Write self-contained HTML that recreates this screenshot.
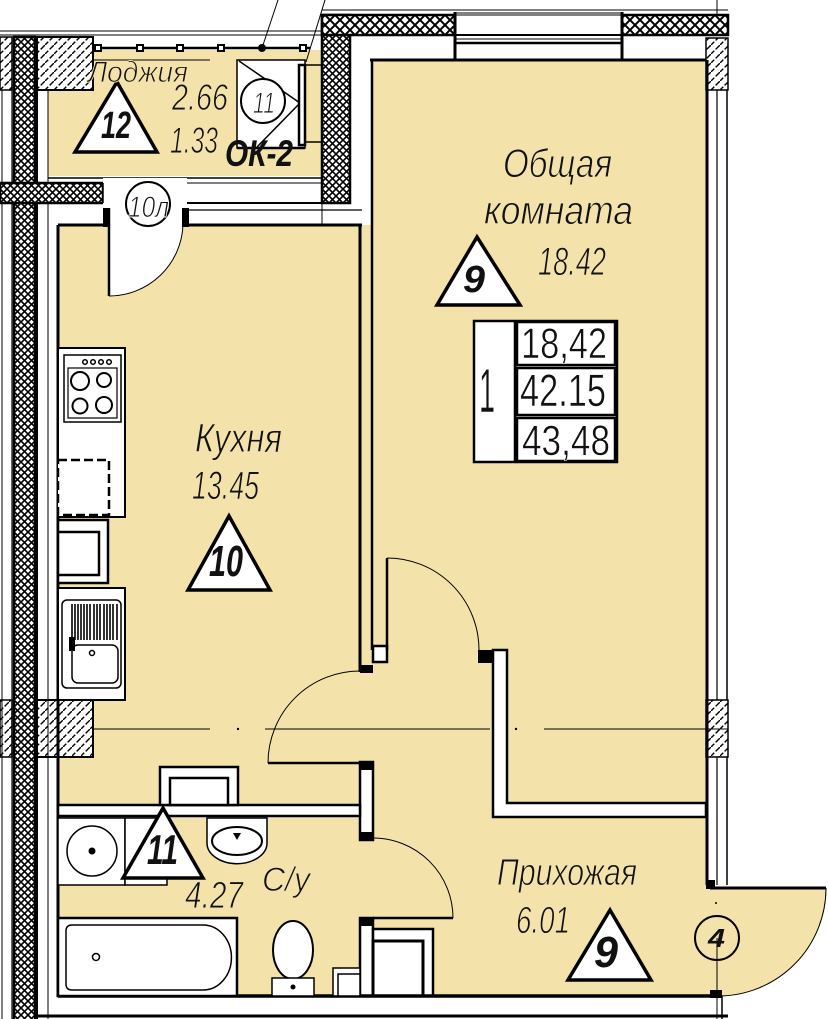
<!DOCTYPE html>
<html><head><meta charset="utf-8"><style>
html,body{margin:0;padding:0;background:#fff;}
svg{display:block;}
text{font-family:"Liberation Sans","DejaVu Sans",sans-serif;fill:#111;}
.i{font-style:italic;stroke:#F3E3AB;stroke-width:0.9;}
.b{font-style:italic;font-weight:bold;}
.n{font-style:normal;stroke:#fff;stroke-width:0.6;}
</style></head><body>
<svg width="828" height="1019" viewBox="0 0 828 1019" xmlns="http://www.w3.org/2000/svg">
<defs>
<pattern id="xh" width="7" height="7" patternUnits="userSpaceOnUse">
<rect width="7" height="7" fill="#fff"/><path d="M-1,-1 L8,8 M-1,8 L8,-1" stroke="#000" stroke-width="1.6"/>
</pattern>
<pattern id="xh2" width="10" height="10" patternUnits="userSpaceOnUse">
<rect width="10" height="10" fill="#fff"/><path d="M-1,-1 L11,11 M-1,11 L11,-1" stroke="#000" stroke-width="2"/>
</pattern>
<pattern id="dh" width="9" height="9" patternUnits="userSpaceOnUse">
<rect width="9" height="9" fill="#fff"/><path d="M-1,10 L10,-1" stroke="#000" stroke-width="1.4" stroke-dasharray="6,2"/>
</pattern>
</defs>
<g fill="#F3E3AB">
<polygon points="93,50 322,50 322,176 48,176 48,90 93,90"/>
<rect x="58" y="225" width="648" height="770"/>
<rect x="372" y="60" width="334" height="170"/>
<path d="M706,888 L826,888 A108,108 0 0 1 718,996 L706,996 Z"/>
</g>
<g stroke="#000" fill="none">
<line x1="0" y1="31" x2="322" y2="31" stroke-width="1"/>
<line x1="0" y1="35" x2="322" y2="35" stroke-width="1"/>
<line x1="0" y1="60" x2="210" y2="60" stroke-width="1"/>
<line x1="322" y1="10" x2="728" y2="10" stroke-width="1"/>
<line x1="455" y1="13" x2="622" y2="13" stroke-width="1"/>
<line x1="717" y1="0" x2="717" y2="15" stroke-width="1"/>
<line x1="278" y1="0" x2="262" y2="48" stroke-width="1"/>
<line x1="325" y1="0" x2="306" y2="62" stroke-width="1"/>
</g>
<rect x="0" y="37" width="12" height="53" fill="url(#dh)" stroke="#000" stroke-width="1.5"/>
<rect x="37" y="37" width="56" height="53" fill="url(#dh)" stroke="#000" stroke-width="2"/>
<rect x="0" y="700" width="12" height="57" fill="url(#dh)" stroke="#000" stroke-width="1.5"/>
<rect x="37" y="700" width="56" height="57" fill="url(#dh)" stroke="#000" stroke-width="2"/>
<rect x="14" y="37" width="21" height="990" fill="url(#xh)" stroke="#000" stroke-width="2.5"/>
<line x1="2" y1="90" x2="2" y2="1019" stroke="#000" stroke-width="1"/>
<line x1="12" y1="90" x2="12" y2="1019" stroke="#000" stroke-width="1.2"/>
<line x1="37" y1="90" x2="37" y2="1019" stroke="#000" stroke-width="2"/>
<line x1="48" y1="90" x2="48" y2="1019" stroke="#000" stroke-width="1"/>
<line x1="58" y1="225" x2="58" y2="997" stroke="#000" stroke-width="3"/>
<rect x="0" y="183" width="103" height="20" fill="url(#xh)" stroke="#000" stroke-width="2.5"/>
<line x1="93" y1="48" x2="310" y2="48" stroke="#000" stroke-width="2.5"/>
<g fill="#fff" stroke="#000" stroke-width="2">
<rect x="95" y="45" width="6" height="6"/><rect x="137" y="45" width="6" height="6"/><rect x="177" y="45" width="6" height="6"/><rect x="218" y="45" width="6" height="6"/><rect x="300" y="45" width="6" height="6"/>
</g>
<circle cx="262" cy="48" r="4" fill="#000"/>
<line x1="48" y1="178" x2="322" y2="178" stroke="#000" stroke-width="1.5"/>
<line x1="103" y1="183" x2="322" y2="183" stroke="#000" stroke-width="1"/>
<rect x="237" y="60" width="68" height="88" fill="#fff" stroke="#000" stroke-width="1.5"/>
<line x1="237" y1="148" x2="305" y2="148" stroke="#000" stroke-width="2.5"/>
<polyline points="239,61 300,103 257,147" fill="none" stroke="#000" stroke-width="1.5"/>
<circle cx="263" cy="101" r="22" fill="#fff" stroke="#000" stroke-width="2"/>
<rect x="299" y="65" width="6" height="80" fill="#fff" stroke="#000" stroke-width="2.5"/>
<line x1="305" y1="65" x2="323" y2="65" stroke="#000" stroke-width="1.5"/>
<line x1="305" y1="142" x2="323" y2="142" stroke="#000" stroke-width="1.5"/>
<rect x="322" y="15" width="28" height="188" fill="url(#xh)" stroke="#000" stroke-width="2.5"/>
<rect x="322" y="15" width="133" height="20" fill="url(#xh2)" stroke="#000" stroke-width="2.5"/>
<rect x="622" y="15" width="106" height="20" fill="url(#xh2)" stroke="#000" stroke-width="2.5"/>
<g stroke="#000">
<line x1="455" y1="15" x2="622" y2="15" stroke-width="1"/>
<line x1="455" y1="35" x2="622" y2="35" stroke-width="2"/>
<line x1="455" y1="39" x2="622" y2="39" stroke-width="1"/>
<line x1="455" y1="43" x2="622" y2="43" stroke-width="2.5"/>
<line x1="455" y1="12" x2="455" y2="61" stroke-width="3"/>
<line x1="622" y1="12" x2="622" y2="61" stroke-width="3"/>
<line x1="350" y1="35" x2="455" y2="35" stroke-width="2"/>
<line x1="622" y1="35" x2="706" y2="35" stroke-width="2"/>
<line x1="370" y1="60" x2="708" y2="60" stroke-width="3"/>
<line x1="372" y1="60" x2="372" y2="650" stroke-width="2.5"/>
<line x1="360" y1="225" x2="360" y2="672" stroke-width="3"/>
<line x1="322" y1="203" x2="322" y2="225" stroke-width="1"/>
<line x1="187" y1="203" x2="350" y2="203" stroke-width="2"/>
<line x1="187" y1="210" x2="362" y2="210" stroke-width="1.2"/>
<line x1="58" y1="225" x2="103" y2="225" stroke-width="3"/>
<line x1="187" y1="225" x2="362" y2="225" stroke-width="3"/>
</g>
<rect x="706" y="38" width="22" height="52" fill="url(#dh)" stroke="#000" stroke-width="1.5"/>
<rect x="706" y="700" width="22" height="57" fill="url(#dh)" stroke="#000" stroke-width="1.5"/>
<g stroke="#000">
<line x1="707" y1="60" x2="707" y2="885" stroke-width="3"/>
<line x1="717" y1="90" x2="717" y2="700" stroke-width="1.2"/>
<line x1="717" y1="757" x2="717" y2="885" stroke-width="1.2"/>
<line x1="727" y1="90" x2="727" y2="700" stroke-width="1.5"/>
<line x1="727" y1="757" x2="727" y2="885" stroke-width="1.5"/>
</g>
<rect x="706" y="880" width="9" height="9" fill="#000"/>
<path d="M103,178 H187 V225 H183 A74,74 0 0 1 108,296 V225 H103 Z" fill="#fff"/>
<line x1="103" y1="183" x2="103" y2="203" stroke="#000" stroke-width="1.5"/>
<rect x="103" y="208" width="7" height="19" fill="#000"/>
<rect x="182" y="208" width="7" height="19" fill="#000"/>
<line x1="109" y1="208" x2="109" y2="296" stroke="#000" stroke-width="2.5"/>
<path d="M109,296 A74,74 0 0 0 183,225" fill="none" stroke="#000" stroke-width="1"/>
<circle cx="148" cy="204" r="22" fill="#fff" stroke="#000" stroke-width="2"/>
<rect x="373" y="646" width="14" height="16" fill="#fff" stroke="#000" stroke-width="2.5"/>
<rect x="360" y="665" width="13" height="8" fill="#000"/>
<line x1="387" y1="558" x2="387" y2="650" stroke="#000" stroke-width="2.5"/>
<path d="M387,558 A92,92 0 0 1 479,650" fill="none" stroke="#000" stroke-width="1"/>
<polygon points="493,650 507,650 507,803 706,803 706,817 493,817" fill="#fff" stroke="#000" stroke-width="2.5"/>
<rect x="478" y="650" width="15" height="13" fill="#000"/>
<g stroke="#000" stroke-width="1">
<line x1="93" y1="729" x2="210" y2="729"/><line x1="265" y1="729" x2="490" y2="729"/><line x1="544" y1="729" x2="728" y2="729"/>
</g>
<circle cx="238" cy="729" r="1.2" fill="#000"/><circle cx="516" cy="729" r="1.2" fill="#000"/>
<rect x="360" y="762" width="13" height="78" fill="#fff" stroke="#000" stroke-width="2.5"/>
<rect x="360" y="762" width="13" height="8" fill="#000"/>
<rect x="360" y="832" width="13" height="8" fill="#000"/>
<line x1="268" y1="763" x2="360" y2="763" stroke="#000" stroke-width="2.5"/>
<path d="M268,763 A92,92 0 0 1 360,671" fill="none" stroke="#000" stroke-width="1"/>
<rect x="58" y="805" width="302" height="11" fill="#fff" stroke="#000" stroke-width="2.5"/>
<rect x="160" y="767" width="78" height="38" fill="#fff" stroke="#000" stroke-width="2.5"/>
<rect x="170" y="778" width="58" height="27" fill="#fff" stroke="#000" stroke-width="2.5"/>
<rect x="360" y="918" width="13" height="78" fill="#fff" stroke="#000" stroke-width="2.5"/>
<rect x="360" y="918" width="13" height="8" fill="#000"/>
<line x1="373" y1="918" x2="453" y2="918" stroke="#000" stroke-width="2.5"/>
<path d="M373,838 A80,80 0 0 1 453,918" fill="none" stroke="#000" stroke-width="1"/>
<rect x="373" y="929" width="60" height="67" fill="#fff" stroke="#000" stroke-width="2.5"/>
<rect x="373" y="941" width="50" height="55" fill="#fff" stroke="#000" stroke-width="3"/>
<rect x="58" y="996" width="664" height="18" fill="#fff"/>
<line x1="58" y1="996" x2="722" y2="996" stroke="#000" stroke-width="3.5"/>
<line x1="37" y1="1016" x2="728" y2="1016" stroke="#000" stroke-width="3"/>
<rect x="710" y="990" width="12" height="8" fill="#000"/>
<line x1="722" y1="996" x2="722" y2="1019" stroke="#000" stroke-width="1.5"/>
<line x1="710" y1="888" x2="826" y2="888" stroke="#000" stroke-width="3"/>
<path d="M826,888 A108,108 0 0 1 718,996" fill="none" stroke="#000" stroke-width="1"/>
<line x1="717" y1="938" x2="717" y2="1019" stroke="#000" stroke-width="1"/>
<circle cx="717" cy="938" r="22" fill="none" stroke="#000" stroke-width="2"/>
<circle cx="716" cy="903" r="1" fill="#000"/>
<g fill="#fff" stroke="#000">
<rect x="58" y="348" width="67" height="169" stroke-width="2"/>
<rect x="64" y="355" width="57" height="67" stroke-width="1.5"/>
<rect x="68" y="368" width="49" height="50" stroke-width="1.2"/>
<circle cx="80" cy="381" r="9" stroke-width="2"/><circle cx="104" cy="380" r="7" stroke-width="2"/>
<circle cx="80" cy="406" r="7.5" stroke-width="2"/><circle cx="104" cy="405" r="8" stroke-width="2"/>
<circle cx="85" cy="362" r="2.3" stroke-width="1.5"/><circle cx="93" cy="362" r="2.3" stroke-width="1.5"/><circle cx="101" cy="362" r="2.3" stroke-width="1.5"/><circle cx="109" cy="362" r="2.3" stroke-width="1.5"/>
<rect x="58" y="460" width="51" height="55" stroke-width="2.5" stroke-dasharray="9,4"/>
<rect x="58" y="520" width="50" height="63" stroke-width="2.5"/>
<rect x="58" y="532" width="41" height="43" stroke-width="2.5"/>
<rect x="58" y="588" width="67" height="112" stroke-width="2"/>
<rect x="62" y="600" width="59" height="88" rx="5" stroke-width="1.5"/>
<rect x="72" y="645" width="46" height="38" rx="6" stroke-width="1.5"/>
</g>
<g stroke="#000" stroke-width="1.6">
<line x1="72" y1="604" x2="72" y2="640"/><line x1="75" y1="604" x2="75" y2="640"/><line x1="78" y1="604" x2="78" y2="640"/><line x1="81" y1="604" x2="81" y2="640"/><line x1="84" y1="604" x2="84" y2="640"/><line x1="87" y1="604" x2="87" y2="640"/><line x1="90" y1="604" x2="90" y2="640"/><line x1="94" y1="604" x2="94" y2="640"/><line x1="97" y1="604" x2="97" y2="640"/><line x1="100" y1="604" x2="100" y2="640"/><line x1="104" y1="604" x2="104" y2="640"/><line x1="107" y1="604" x2="107" y2="640"/><line x1="110" y1="604" x2="110" y2="640"/><line x1="113" y1="604" x2="113" y2="640"/><line x1="117" y1="604" x2="117" y2="640"/>
</g>
<rect x="69" y="637" width="6" height="14" fill="#000"/>
<circle cx="92" cy="653" r="2.5" fill="#fff" stroke="#000" stroke-width="1.5"/>
<g fill="#fff" stroke="#000">
<rect x="58" y="818" width="67" height="67" stroke-width="1.5"/>
<rect x="125" y="818" width="42" height="67" stroke-width="1.5"/>
<circle cx="92" cy="851" r="25" stroke-width="1.5"/>
<path d="M207,818 V843 A29,20 0 0 0 267,843 V818 Z" stroke-width="1.5"/>
<ellipse cx="237" cy="841" rx="25" ry="14" stroke-width="2"/>
<rect x="58" y="918" width="179" height="78" stroke-width="2.5"/>
<path d="M72,925 H203 A28,32 0 0 1 203,990 H72 Q66,990 66,984 V931 Q66,925 72,925 Z" stroke-width="1.5"/>
<ellipse cx="293" cy="950" rx="20" ry="29" stroke-width="2"/>
<rect x="272" y="978" width="42" height="18" stroke-width="1.5"/>
<rect x="333" y="968" width="27" height="28" stroke-width="1.5"/>
<rect x="338" y="974" width="22" height="22" stroke-width="1.5"/>
</g>
<circle cx="92" cy="851" r="3.5" fill="#000"/>
<path d="M233,833 L241,833 L237,840 Z" fill="#000"/>
<circle cx="96" cy="957" r="3.5" fill="#fff" stroke="#000" stroke-width="1.5"/>
<circle cx="293" cy="987" r="2.5" fill="#000"/>
<g fill="#fff" stroke="#000" stroke-width="3.5" stroke-linejoin="miter">
<polygon points="75,152 157,152 117,82"/>
<polygon points="437,305 520,305 477,237"/>
<polygon points="188,590 270,590 229,516"/>
<polygon points="123,878 203,878 163,808"/>
<polygon points="568,980 651,980 610,910"/>
</g>
<rect x="474" y="321" width="143" height="141" fill="#fff" stroke="#000" stroke-width="2.5"/>
<line x1="515" y1="321" x2="515" y2="462" stroke="#000" stroke-width="2.5"/>
<g fill="#fff" stroke="#000" stroke-width="2.5">
<rect x="517" y="322" width="98" height="43"/>
<rect x="517" y="368" width="98" height="47"/>
<rect x="517" y="418" width="98" height="43"/>
</g>
<text class="i" x="88" y="82" font-size="30" textLength="100" lengthAdjust="spacingAndGlyphs">Лоджия</text>
<text class="i" x="172" y="110" font-size="37" textLength="56" lengthAdjust="spacingAndGlyphs">2.66</text>
<text class="i" x="170" y="153" font-size="37" textLength="48" lengthAdjust="spacingAndGlyphs">1.33</text>
<text class="b" x="101" y="138" font-size="38" textLength="30" lengthAdjust="spacingAndGlyphs">12</text>
<text class="i" x="253" y="113" font-size="30" textLength="22" lengthAdjust="spacingAndGlyphs" style="stroke:#fff">11</text>
<text class="b" x="225" y="166" font-size="37" textLength="68" lengthAdjust="spacingAndGlyphs">ОК-2</text>
<text class="i" x="128" y="217" font-size="30" textLength="41" lengthAdjust="spacingAndGlyphs" style="stroke:#fff">10л</text>
<text class="i" x="503" y="177" font-size="40" textLength="109" lengthAdjust="spacingAndGlyphs">Общая</text>
<text class="i" x="484" y="224" font-size="40" textLength="149" lengthAdjust="spacingAndGlyphs">комната</text>
<text class="i" x="538" y="275" font-size="40" textLength="68" lengthAdjust="spacingAndGlyphs">18.42</text>
<text class="b" x="463" y="292" font-size="38" textLength="22" lengthAdjust="spacingAndGlyphs">9</text>
<text class="n" x="479" y="412" font-size="62" textLength="16" lengthAdjust="spacingAndGlyphs">1</text>
<text class="n" x="521" y="358" font-size="43" textLength="86" lengthAdjust="spacingAndGlyphs">18,42</text>
<text class="n" x="520" y="406" font-size="45" textLength="86" lengthAdjust="spacingAndGlyphs">42.15</text>
<text class="n" x="522" y="455" font-size="43" textLength="88" lengthAdjust="spacingAndGlyphs">43,48</text>
<text class="i" x="195" y="452" font-size="41" textLength="87" lengthAdjust="spacingAndGlyphs">Кухня</text>
<text class="i" x="192" y="499" font-size="40" textLength="67" lengthAdjust="spacingAndGlyphs">13.45</text>
<text class="b" x="209" y="576" font-size="44" textLength="34" lengthAdjust="spacingAndGlyphs">10</text>
<text class="b" x="147" y="864" font-size="42" textLength="31" lengthAdjust="spacingAndGlyphs">11</text>
<text class="i" x="185" y="908" font-size="38" textLength="58" lengthAdjust="spacingAndGlyphs">4.27</text>
<text class="i" x="262" y="891" font-size="34" textLength="48" lengthAdjust="spacingAndGlyphs">С/у</text>
<text class="i" x="497" y="885" font-size="38" textLength="140" lengthAdjust="spacingAndGlyphs">Прихожая</text>
<text class="i" x="516" y="933" font-size="38" textLength="54" lengthAdjust="spacingAndGlyphs">6.01</text>
<text class="b" x="594" y="967" font-size="44" textLength="24" lengthAdjust="spacingAndGlyphs">9</text>
<text class="b" x="708" y="947" font-size="26" textLength="17" lengthAdjust="spacingAndGlyphs">4</text>
</svg>
</body></html>
